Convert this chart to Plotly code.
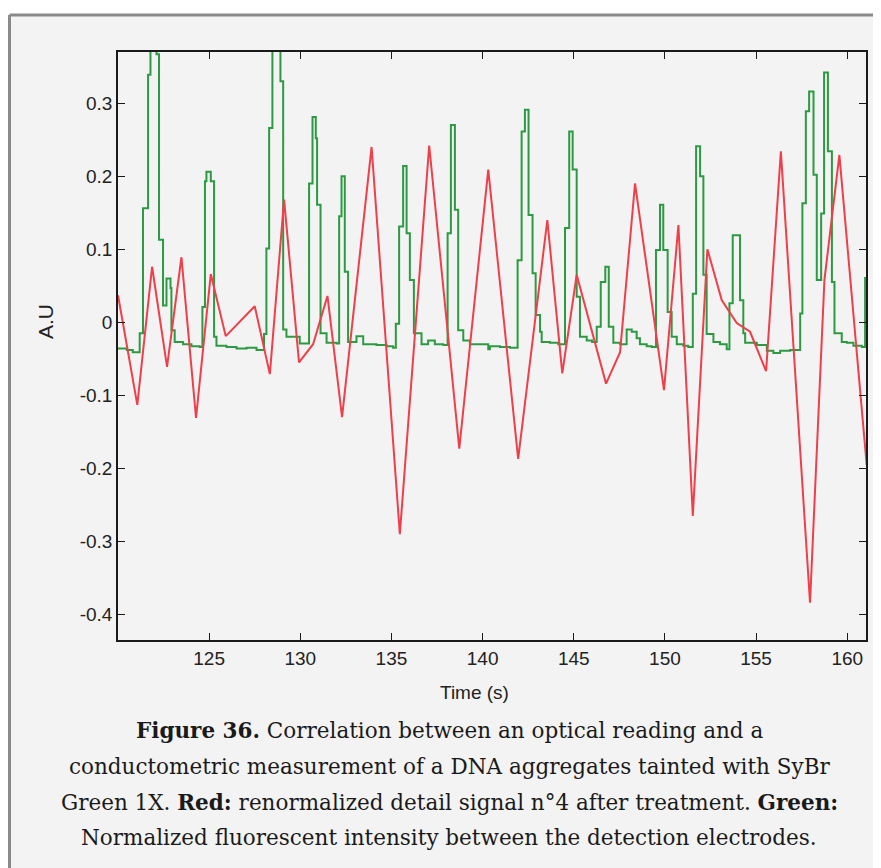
import plotly.graph_objects as go

# page geometry (pixels); the browser puts the figure 8 px from the page corner
OFF = 8
PAGE_W, PAGE_H = 881, 868
W, H = PAGE_W - OFF, PAGE_H - OFF
# plot area on the page: x 118..866, y 52..640
L, T = 118 - OFF, 52 - OFF
R, B = W - (866 - OFF), H - (640 - OFF)

# red: renormalized detail signal n°4 after treatment
red_t = [120.0, 121.06, 121.87, 122.69, 123.48, 124.28, 125.09, 125.91, 127.5, 128.33,
         129.11, 129.93, 130.7, 131.49, 132.29, 133.91, 135.46, 137.07, 138.72, 140.31,
         141.95, 143.55, 144.37, 145.16, 146.77, 147.54, 148.36, 149.95, 150.74, 151.53,
         152.33, 153.12, 153.94, 154.67, 155.55, 156.36, 157.96, 158.75, 159.57, 161.07]
red_y = [0.037, -0.113, 0.076, -0.061, 0.089, -0.131, 0.066, -0.019, 0.022, -0.071,
         0.168, -0.055, -0.03, 0.036, -0.13, 0.24, -0.29, 0.242, -0.173, 0.209,
         -0.187, 0.14, -0.07, 0.065, -0.084, -0.041, 0.19, -0.093, 0.133, -0.265,
         0.1, 0.03, -0.001, -0.013, -0.067, 0.234, -0.384, 0.058, 0.229, -0.196]

# green: normalized fluorescent intensity (sample and hold)
green_t = [120.0, 120.48, 120.81, 121.19, 121.37, 121.65, 121.78, 122.11, 122.25, 122.47,
           122.66, 122.88, 122.93, 123.11, 123.57, 124.03, 124.48,
           124.63, 124.77, 124.85, 125.09, 125.27, 125.4, 125.95, 126.5, 127.05, 127.6,
           128.01, 128.14, 128.29, 128.47, 128.91, 129.06, 129.24, 129.97,
           130.48, 130.67, 130.85, 130.92, 131.11, 131.44, 131.99,
           132.13, 132.26, 132.44, 132.62, 133.08, 133.45, 134.18, 134.73, 135.09,
           135.24, 135.42, 135.64, 135.83, 136.01, 136.23, 136.65, 137.01, 137.38, 137.84,
           138.08, 138.26, 138.48, 138.66, 138.94, 139.3, 139.85, 140.31, 140.4, 140.95, 141.5,
           141.92, 142.14, 142.32, 142.52, 142.74, 142.91, 143.15, 143.24, 143.69, 144.15,
           144.52, 144.75, 144.94, 145.16, 145.34, 145.71, 146.0,
           146.26, 146.48, 146.73, 146.92, 147.17, 147.54, 147.9, 148.18, 148.45, 148.63,
           149.0, 149.28,
           149.51, 149.73, 149.91, 150.15, 150.37, 150.65, 151.01, 151.28,
           151.53, 151.71, 151.93, 152.11, 152.29, 152.66, 153.02, 153.39,
           153.54, 153.72, 154.12, 154.3, 154.4, 155.04, 155.59, 155.95, 156.32, 156.87,
           157.42, 157.54, 157.73, 157.91, 158.15, 158.33, 158.57, 158.73, 158.94, 159.16,
           159.3, 159.7, 159.98, 160.34, 160.8, 160.98]
green_y = [-0.036, -0.038, -0.041, -0.015, 0.156, 0.339, 0.42, 0.367, 0.113, 0.023,
           0.06, 0.047, -0.011, -0.027, -0.03, -0.033, -0.034,
           0.021, 0.193, 0.206, 0.193, -0.02, -0.032, -0.034, -0.036, -0.035, -0.038,
           -0.016, 0.101, 0.266, 0.42, 0.33, -0.01, -0.02, -0.029,
           0.19, 0.281, 0.252, 0.161, -0.015, -0.028, -0.029,
           0.145, 0.2, 0.069, -0.027, -0.019, -0.03, -0.031, -0.033, -0.035,
           -0.002, 0.131, 0.214, 0.122, 0.058, -0.015, -0.03, -0.025, -0.03, -0.031,
           0.122, 0.27, 0.154, -0.011, -0.025, -0.03, -0.03, -0.037, -0.033, -0.034, -0.035,
           0.085, 0.261, 0.291, 0.147, 0.067, 0.01, -0.013, -0.027, -0.028, -0.03,
           0.129, 0.261, 0.209, 0.035, -0.02, -0.025, -0.027,
           -0.006, 0.055, 0.076, -0.006, -0.028, -0.03, -0.01, -0.013, -0.022, -0.03,
           -0.033, -0.034,
           0.099, 0.161, 0.099, 0.014, -0.02, -0.03, -0.032, -0.034,
           0.039, 0.241, 0.2, 0.065, -0.016, -0.027, -0.03, -0.037,
           0.026, 0.119, 0.03, -0.015, -0.028, -0.031, -0.039, -0.042, -0.039, -0.038,
           0.012, 0.163, 0.289, 0.316, 0.202, 0.058, 0.149, 0.342, 0.234, 0.055,
           -0.015, -0.027, -0.028, -0.032, -0.034, 0.062]

x_ticks = [125, 130, 135, 140, 145, 150, 155, 160]
y_ticks = [0.3, 0.2, 0.1, 0.0, -0.1, -0.2, -0.3, -0.4]
y_tick_text = ["0.3", "0.2", "0.1", "0", "-0.1", "-0.2", "-0.3", "-0.4"]

caption = [
    "<b>Figure 36.</b> Correlation between an optical reading and a",
    "conductometric measurement of a DNA aggregates tainted with SyBr",
    "Green 1X. <b>Red:</b> renormalized detail signal n°4 after treatment. <b>Green:</b>",
    "Normalized fluorescent intensity between the detection electrodes.",
]

BG = "#f3f3f3"
FRAME = "#8a8a8a"
SANS = "Liberation Sans, Arial, sans-serif"
SERIF = "DejaVu Serif, Liberation Serif, serif"


def px(x):
    """page x pixel -> paper coordinate"""
    return (x - OFF - L) / (W - L - R)


def py(y):
    """page y pixel -> paper coordinate"""
    return (H - B - (y - OFF)) / (H - T - B)


fig = go.Figure()
fig.add_trace(go.Scatter(x=green_t, y=green_y, mode="lines", line_shape="hv",
                         line=dict(color="#2c9a42", width=2)))
fig.add_trace(go.Scatter(x=red_t, y=red_y, mode="lines",
                         line=dict(color="#ef3f4a", width=2)))

axis_common = dict(showline=True, linecolor="#1a1a1a", linewidth=1.5, mirror="ticks",
                   ticks="inside", ticklen=7, tickcolor="#1a1a1a", tickwidth=1.3,
                   showgrid=False, zeroline=False,
                   tickfont=dict(family=SANS, size=19, color="#222"))

fig.update_xaxes(range=[120, 161.03], tickvals=x_ticks, **axis_common)
fig.update_yaxes(range=[-0.435, 0.37], tickvals=y_ticks, ticktext=y_tick_text, **axis_common)

shapes = [
    # white page above the grey frame, then the frame itself
    dict(type="rect", xref="paper", yref="paper", x0=px(0), x1=px(PAGE_W + 10),
         y0=py(0), y1=py(15), fillcolor="white", line_width=0),
    dict(type="line", xref="paper", yref="paper", x0=px(OFF + 1.5), x1=px(PAGE_W + 10),
         y0=py(15), y1=py(15), line=dict(color=FRAME, width=3)),
    dict(type="line", xref="paper", yref="paper", x0=px(OFF + 1.5), x1=px(OFF + 1.5),
         y0=py(15), y1=py(PAGE_H + 10), line=dict(color=FRAME, width=3)),
]

annotations = [
    dict(text="A.U", xref="paper", yref="paper", x=px(45), y=py(322), showarrow=False,
         xanchor="center", yanchor="middle", textangle=-90,
         font=dict(family=SANS, size=21, color="#222")),
    dict(text="Time (s)", xref="paper", yref="paper", x=px(474), y=py(692), showarrow=False,
         xanchor="center", yanchor="middle",
         font=dict(family="Liberation Sans Narrow, " + SANS, size=19, color="#222")),
]
for i, line in enumerate(caption):
    annotations.append(dict(text=line, xref="paper", yref="paper", x=px(449),
                            y=py(731 + i * 35.5), showarrow=False,
                            xanchor="center", yanchor="middle",
                            font=dict(family=SERIF, size=21.5, color="#1a1a1a")))

fig.update_layout(
    width=W, height=H,
    margin=dict(l=L, r=R, t=T, b=B),
    paper_bgcolor=BG, plot_bgcolor=BG,
    showlegend=False,
    shapes=shapes,
    annotations=annotations,
)

fig.write_html("out.html")
